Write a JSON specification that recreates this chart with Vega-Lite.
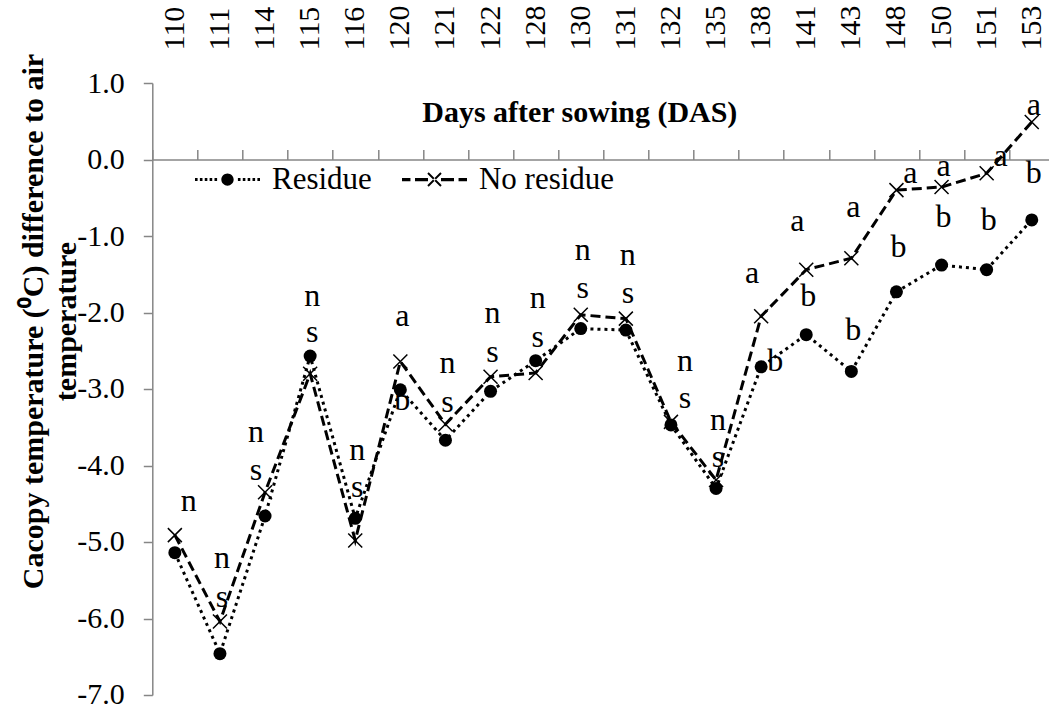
{
  "$schema": "https://vega.github.io/schema/vega-lite/v6.json",
  "autosize": {"type": "none"},
  "padding": {"left": 152.3, "top": 83, "right": 0, "bottom": 13},
  "width": 897,
  "height": 612,
  "background": "white",
  "config": {"view": {"stroke": null}, "font": "Liberation Serif"},
  "datasets": {
    "temps": [
      {"das": 110, "series": "Residue", "temp": -5.14}, {"das": 110, "series": "No residue", "temp": -4.91},
      {"das": 111, "series": "Residue", "temp": -6.46}, {"das": 111, "series": "No residue", "temp": -6.04},
      {"das": 114, "series": "Residue", "temp": -4.66}, {"das": 114, "series": "No residue", "temp": -4.35},
      {"das": 115, "series": "Residue", "temp": -2.57}, {"das": 115, "series": "No residue", "temp": -2.80},
      {"das": 116, "series": "Residue", "temp": -4.69}, {"das": 116, "series": "No residue", "temp": -4.98},
      {"das": 120, "series": "Residue", "temp": -3.01}, {"das": 120, "series": "No residue", "temp": -2.64},
      {"das": 121, "series": "Residue", "temp": -3.67}, {"das": 121, "series": "No residue", "temp": -3.46},
      {"das": 122, "series": "Residue", "temp": -3.03}, {"das": 122, "series": "No residue", "temp": -2.84},
      {"das": 128, "series": "Residue", "temp": -2.63}, {"das": 128, "series": "No residue", "temp": -2.79},
      {"das": 130, "series": "Residue", "temp": -2.21}, {"das": 130, "series": "No residue", "temp": -2.03},
      {"das": 131, "series": "Residue", "temp": -2.23}, {"das": 131, "series": "No residue", "temp": -2.08},
      {"das": 132, "series": "Residue", "temp": -3.47}, {"das": 132, "series": "No residue", "temp": -3.43},
      {"das": 135, "series": "Residue", "temp": -4.30}, {"das": 135, "series": "No residue", "temp": -4.19},
      {"das": 138, "series": "Residue", "temp": -2.71}, {"das": 138, "series": "No residue", "temp": -2.05},
      {"das": 141, "series": "Residue", "temp": -2.29}, {"das": 141, "series": "No residue", "temp": -1.44},
      {"das": 143, "series": "Residue", "temp": -2.77}, {"das": 143, "series": "No residue", "temp": -1.29},
      {"das": 148, "series": "Residue", "temp": -1.73}, {"das": 148, "series": "No residue", "temp": -0.40},
      {"das": 150, "series": "Residue", "temp": -1.38}, {"das": 150, "series": "No residue", "temp": -0.36},
      {"das": 151, "series": "Residue", "temp": -1.44}, {"das": 151, "series": "No residue", "temp": -0.18},
      {"das": 153, "series": "Residue", "temp": -0.79}, {"das": 153, "series": "No residue", "temp": 0.49}
    ],
    "labels": [
      {"das": 110, "label": "n", "pos": -4.47, "side": "R"},
      {"das": 111, "label": "n", "pos": -5.21, "side": "C"},
      {"das": 111, "label": "s", "pos": -5.72, "side": "C"},
      {"das": 114, "label": "n", "pos": -3.56, "side": "L"},
      {"das": 114, "label": "s", "pos": -4.06, "side": "L"},
      {"das": 115, "label": "n", "pos": -1.79, "side": "C"},
      {"das": 115, "label": "s", "pos": -2.25, "side": "C"},
      {"das": 116, "label": "n", "pos": -3.80, "side": "C"},
      {"das": 116, "label": "s", "pos": -4.28, "side": "C"},
      {"das": 120, "label": "a", "pos": -2.05, "side": "C"},
      {"das": 120, "label": "b", "pos": -3.14, "side": "C"},
      {"das": 121, "label": "n", "pos": -2.66, "side": "C"},
      {"das": 121, "label": "s", "pos": -3.17, "side": "C"},
      {"das": 122, "label": "n", "pos": -2.01, "side": "C"},
      {"das": 122, "label": "s", "pos": -2.51, "side": "C"},
      {"das": 128, "label": "n", "pos": -1.81, "side": "C"},
      {"das": 128, "label": "s", "pos": -2.32, "side": "C"},
      {"das": 130, "label": "n", "pos": -1.18, "side": "C"},
      {"das": 130, "label": "s", "pos": -1.68, "side": "C"},
      {"das": 131, "label": "n", "pos": -1.25, "side": "C"},
      {"das": 131, "label": "s", "pos": -1.75, "side": "C"},
      {"das": 132, "label": "n", "pos": -2.64, "side": "R"},
      {"das": 132, "label": "s", "pos": -3.12, "side": "R"},
      {"das": 135, "label": "n", "pos": -3.41, "side": "C"},
      {"das": 135, "label": "s", "pos": -3.89, "side": "C"},
      {"das": 138, "label": "a", "pos": -1.49, "side": "L"},
      {"das": 138, "label": "b", "pos": -2.64, "side": "R"},
      {"das": 141, "label": "a", "pos": -0.81, "side": "L"},
      {"das": 141, "label": "b", "pos": -1.79, "side": "C"},
      {"das": 143, "label": "a", "pos": -0.62, "side": "C"},
      {"das": 143, "label": "b", "pos": -2.23, "side": "C"},
      {"das": 148, "label": "a", "pos": -0.18, "side": "R"},
      {"das": 148, "label": "b", "pos": -1.14, "side": "C"},
      {"das": 150, "label": "a", "pos": -0.09, "side": "C"},
      {"das": 150, "label": "b", "pos": -0.75, "side": "C"},
      {"das": 151, "label": "a", "pos": 0.04, "side": "R"},
      {"das": 151, "label": "b", "pos": -0.79, "side": "C"},
      {"das": 153, "label": "a", "pos": 0.71, "side": "C"},
      {"das": 153, "label": "b", "pos": -0.18, "side": "C"}
    ]
  },
  "resolve": {"axis": {"x": "independent"}},
  "layer": [
    {
      "data": {"name": "temps"},
      "transform": [{"filter": "datum.series === 'Residue'"}],
      "mark": {"type": "line", "color": "black", "strokeWidth": 3, "strokeDash": [3, 4]},
      "encoding": {
        "x": {
          "field": "das", "type": "ordinal",
          "scale": {"type": "band", "range": [0, 902], "paddingInner": 0, "paddingOuter": 0},
          "axis": {
            "orient": "top", "domain": false, "ticks": false, "grid": false, "title": null,
            "labelAngle": -90, "labelAlign": "left", "labelBaseline": "middle",
            "labelFont": "Liberation Serif", "labelFontSize": 30, "labelColor": "black",
            "labelPadding": 33, "labelOverlap": false
          }
        },
        "y": {
          "field": "temp", "type": "quantitative",
          "scale": {"domain": [-7, 1], "nice": false, "zero": false},
          "axis": {
            "values": [-7, -6, -5, -4, -3, -2, -1, 0, 1],
            "labelExpr": "datum.value < 0 ? '-' + format(-datum.value, '.1f') : format(datum.value, '.1f')",
            "labelFont": "Liberation Serif", "labelFontSize": 30, "labelColor": "black",
            "labelPadding": 19, "tickSize": 9, "tickColor": "#868686", "tickWidth": 1.5,
            "domainColor": "#868686", "domainWidth": 1.5, "grid": false,
            "title": ["Cacopy temperature (⁰C) difference to air", "temperature"],
            "titleFont": "Liberation Serif", "titleFontSize": 30, "titleFontWeight": "bold",
            "titleColor": "black", "titleX": -110, "titleY": 238, "titleAngle": 270,
            "titleAlign": "center", "titleBaseline": "alphabetic", "titleLineHeight": 33
          }
        }
      }
    },
    {
      "data": {"name": "temps"},
      "transform": [{"filter": "datum.series === 'No residue'"}],
      "mark": {"type": "line", "color": "black", "strokeWidth": 3, "strokeDash": [10, 5]},
      "encoding": {
        "x": {"field": "das", "type": "ordinal", "axis": null},
        "y": {"field": "temp", "type": "quantitative"}
      }
    },
    {
      "data": {"name": "temps"},
      "transform": [{"filter": "datum.series === 'Residue'"}],
      "mark": {"type": "point", "shape": "circle", "filled": true, "color": "black", "size": 169, "opacity": 1},
      "encoding": {
        "x": {
          "field": "das", "type": "ordinal",
          "axis": {
            "orient": "top", "offset": -76.5, "labels": false, "tickBand": "extent",
            "tickSize": 10, "tickColor": "#868686", "tickWidth": 1.5,
            "domainColor": "#868686", "domainWidth": 1.5, "grid": false,
            "title": "Days after sowing (DAS)", "titleFont": "Liberation Serif", "titleFontSize": 30,
            "titleFontWeight": "bold", "titleColor": "black", "titleX": 427, "titleY": -38.5,
            "titleBaseline": "alphabetic", "titleAlign": "center"
          }
        },
        "y": {"field": "temp", "type": "quantitative"}
      }
    },
    {
      "data": {"name": "temps"},
      "transform": [{"filter": "datum.series === 'No residue'"}],
      "mark": {"type": "point", "shape": "M-1,-1L1,1M-1,1L1,-1", "filled": false, "color": "black", "size": 196, "strokeWidth": 1.5, "opacity": 1},
      "encoding": {
        "x": {"field": "das", "type": "ordinal", "axis": null},
        "y": {"field": "temp", "type": "quantitative"}
      }
    },
    {
      "data": {"name": "temps"},
      "mark": {"type": "point", "filled": true, "color": "black", "opacity": 0},
      "encoding": {
        "x": {"field": "das", "type": "ordinal", "axis": null},
        "y": {"field": "temp", "type": "quantitative"},
        "shape": {
          "field": "series", "type": "nominal",
          "scale": {
            "domain": ["Residue", "No residue"],
            "range": [
              "M-1,-0.045L-0.92,-0.045L-0.92,0.045L-1,0.045ZM-0.85,-0.045L-0.77,-0.045L-0.77,0.045L-0.85,0.045ZM-0.7,-0.045L-0.62,-0.045L-0.62,0.045L-0.7,0.045ZM-0.55,-0.045L-0.47,-0.045L-0.47,0.045L-0.55,0.045ZM-0.4,-0.045L-0.32,-0.045L-0.32,0.045L-0.4,0.045ZM0.32,-0.045L0.4,-0.045L0.4,0.045L0.32,0.045ZM0.47,-0.045L0.55,-0.045L0.55,0.045L0.47,0.045ZM0.62,-0.045L0.7,-0.045L0.7,0.045L0.62,0.045ZM0.77,-0.045L0.85,-0.045L0.85,0.045L0.77,0.045ZM0.92,-0.045L1,-0.045L1,0.045L0.92,0.045ZM-0.19,0A0.19,0.19 0 1,0 0.19,0A0.19,0.19 0 1,0 -0.19,0Z",
              "M-1,-0.05L-0.74,-0.05L-0.74,0.05L-1,0.05ZM-0.6,-0.05L-0.2,-0.05L-0.2,0.05L-0.6,0.05ZM0.2,-0.05L0.6,-0.05L0.6,0.05L0.2,0.05ZM0.74,-0.05L1,-0.05L1,0.05L0.74,0.05ZM-0.179,-0.221L0.221,0.179L0.179,0.221L-0.221,-0.179ZM-0.179,0.221L0.221,-0.179L0.179,-0.221L-0.221,0.179Z"
            ]
          },
          "legend": {
            "orient": "none", "legendX": 42.7, "legendY": 63.8, "direction": "horizontal",
            "title": null, "padding": 0, "symbolSize": 4225,
            "symbolFillColor": "black", "symbolStrokeWidth": 0, "symbolOpacity": 1,
            "labelFont": "Liberation Serif", "labelFontSize": 31, "labelColor": "black",
            "labelOffset": 12, "columnPadding": 30,
            "encode": {
              "symbols": {
                "fill": {"value": "black"},
                "fillOpacity": {"value": 1},
                "opacity": {"value": 1}
              }
            }
          }
        }
      }
    },
    {
      "data": {"name": "labels"},
      "transform": [{"filter": "datum.side === 'C'"}],
      "mark": {"type": "text", "font": "Liberation Serif", "fontSize": 32, "color": "black", "align": "center", "baseline": "middle", "dx": 2},
      "encoding": {
        "x": {"field": "das", "type": "ordinal", "axis": null},
        "y": {"field": "pos", "type": "quantitative"},
        "text": {"field": "label"}
      }
    },
    {
      "data": {"name": "labels"},
      "transform": [{"filter": "datum.side === 'R'"}],
      "mark": {"type": "text", "font": "Liberation Serif", "fontSize": 32, "color": "black", "align": "center", "baseline": "middle", "dx": 14},
      "encoding": {
        "x": {"field": "das", "type": "ordinal", "axis": null},
        "y": {"field": "pos", "type": "quantitative"},
        "text": {"field": "label"}
      }
    },
    {
      "data": {"name": "labels"},
      "transform": [{"filter": "datum.side === 'L'"}],
      "mark": {"type": "text", "font": "Liberation Serif", "fontSize": 32, "color": "black", "align": "center", "baseline": "middle", "dx": -9},
      "encoding": {
        "x": {"field": "das", "type": "ordinal", "axis": null},
        "y": {"field": "pos", "type": "quantitative"},
        "text": {"field": "label"}
      }
    }
  ]
}
